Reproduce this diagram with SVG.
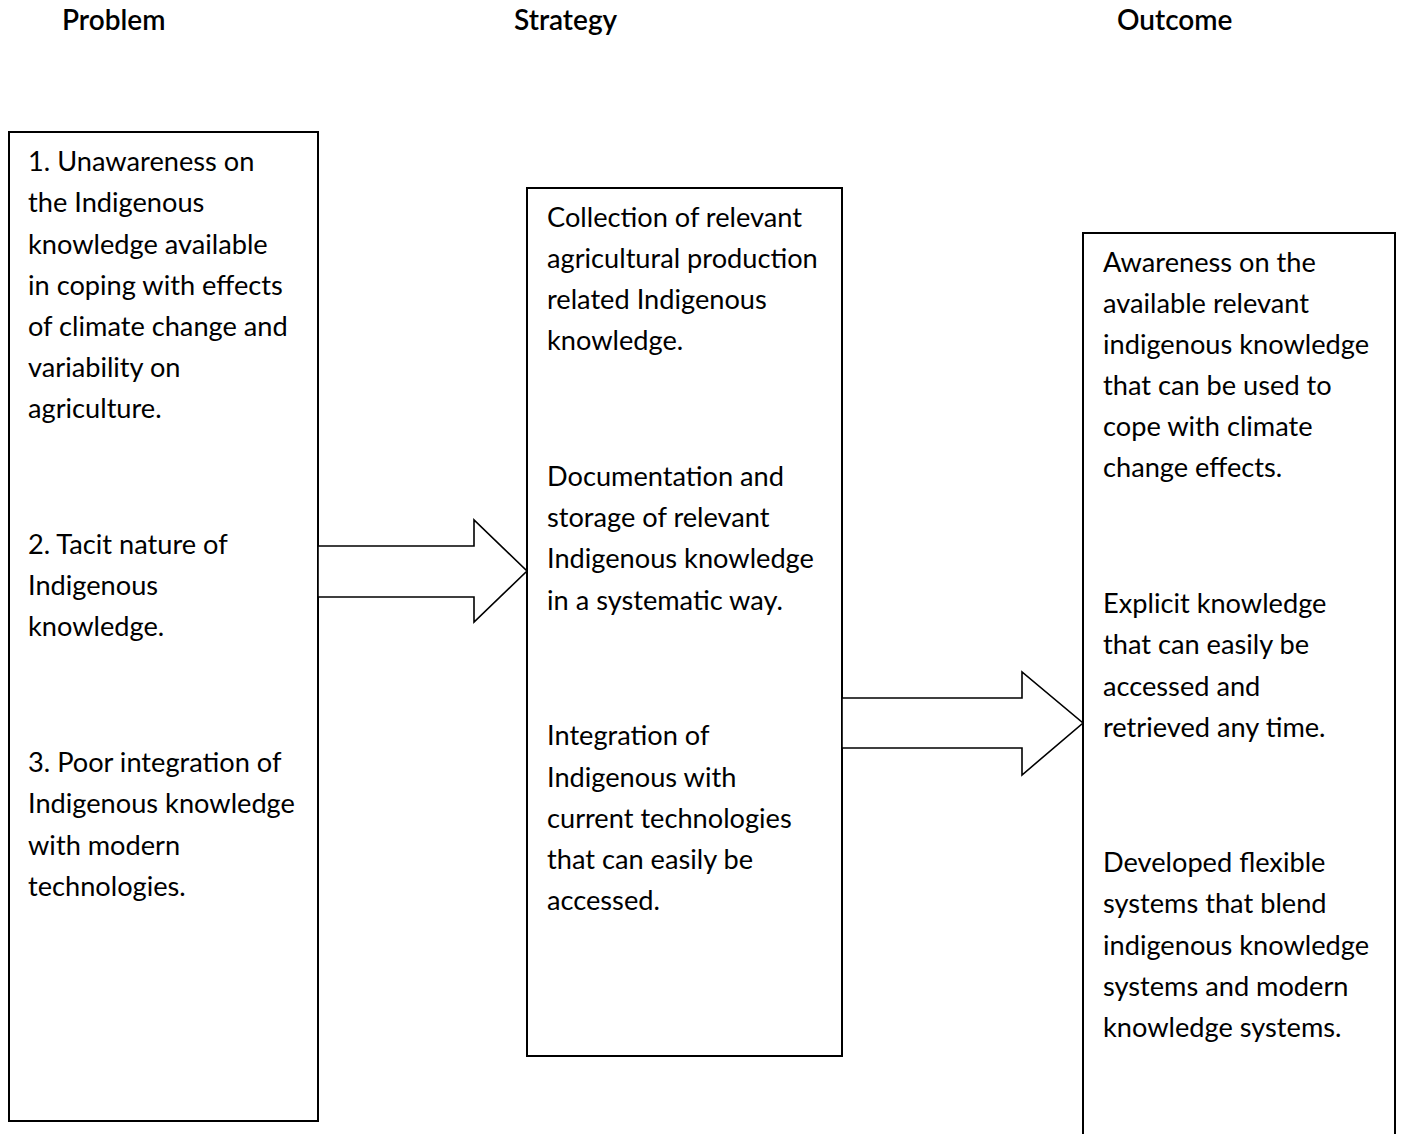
<svg xmlns="http://www.w3.org/2000/svg" width="1401" height="1134" viewBox="0 0 1401 1134">
<style>
.box{fill:#fff;stroke:#000;stroke-width:2}
.arr{fill:#fff;stroke:#000;stroke-width:1.6;stroke-linejoin:miter}
.t{font-family:Lato,"Open Sans","Liberation Sans",sans-serif;font-size:27.2px;fill:#000}
.h{font-family:Lato,"Open Sans","Liberation Sans",sans-serif;font-size:28px;font-weight:600;fill:#000}
</style>
<rect width="1401" height="1134" fill="#fff"/>
<g id="headers">
<text class="h" x="62" y="30">Problem</text>
<text class="h" x="514" y="30">Strategy</text>
<text class="h" x="1117" y="30">Outcome</text>
</g>
<g id="problem">
<rect class="box" x="9" y="132" width="309" height="989"/>
<text class="t" x="28" y="171">1. Unawareness on</text>
<text class="t" x="28" y="212">the Indigenous</text>
<text class="t" x="28" y="254">knowledge available</text>
<text class="t" x="28" y="295">in coping with effects</text>
<text class="t" x="28" y="336">of climate change and</text>
<text class="t" x="28" y="377">variability on</text>
<text class="t" x="28" y="418">agriculture.</text>
<text class="t" x="28" y="554">2. Tacit nature of</text>
<text class="t" x="28" y="595">Indigenous</text>
<text class="t" x="28" y="636">knowledge.</text>
<text class="t" x="28" y="772">3. Poor integration of</text>
<text class="t" x="28" y="813">Indigenous knowledge</text>
<text class="t" x="28" y="855">with modern</text>
<text class="t" x="28" y="896">technologies.</text>
</g>
<g id="strategy">
<rect class="box" x="527" y="188" width="315" height="868"/>
<text class="t" x="547" y="227">Collection of relevant</text>
<text class="t" x="547" y="268">agricultural production</text>
<text class="t" x="547" y="309">related Indigenous</text>
<text class="t" x="547" y="350">knowledge.</text>
<text class="t" x="547" y="486">Documentation and</text>
<text class="t" x="547" y="527">storage of relevant</text>
<text class="t" x="547" y="568">Indigenous knowledge</text>
<text class="t" x="547" y="610">in a systematic way.</text>
<text class="t" x="547" y="745">Integration of</text>
<text class="t" x="547" y="787">Indigenous with</text>
<text class="t" x="547" y="828">current technologies</text>
<text class="t" x="547" y="869">that can easily be</text>
<text class="t" x="547" y="910">accessed.</text>
</g>
<g id="outcome">
<rect class="box" x="1083" y="233" width="312" height="920"/>
<text class="t" x="1103" y="272">Awareness on the</text>
<text class="t" x="1103" y="313">available relevant</text>
<text class="t" x="1103" y="354">indigenous knowledge</text>
<text class="t" x="1103" y="395">that can be used to</text>
<text class="t" x="1103" y="436">cope with climate</text>
<text class="t" x="1103" y="477">change effects.</text>
<text class="t" x="1103" y="613">Explicit knowledge</text>
<text class="t" x="1103" y="654">that can easily be</text>
<text class="t" x="1103" y="696">accessed and</text>
<text class="t" x="1103" y="737">retrieved any time.</text>
<text class="t" x="1103" y="872">Developed flexible</text>
<text class="t" x="1103" y="913">systems that blend</text>
<text class="t" x="1103" y="955">indigenous knowledge</text>
<text class="t" x="1103" y="996">systems and modern</text>
<text class="t" x="1103" y="1037">knowledge systems.</text>
</g>
<g id="connectors">
<polygon class="arr" points="318,546 474,546 474,520 527,571 474,622 474,597 318,597"/>
<polygon class="arr" points="842,698 1022,698 1022,672 1083,723 1022,775 1022,748 842,748"/>
</g>
</svg>
